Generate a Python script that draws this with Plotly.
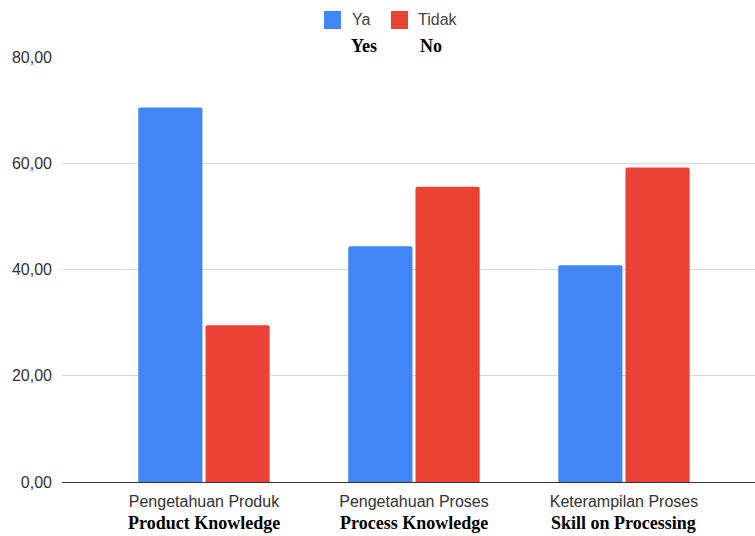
import plotly.graph_objects as go

categories = ["Pengetahuan Produk", "Pengetahuan Proses", "Keterampilan Proses"]
english_labels = ["Product Knowledge", "Process Knowledge", "Skill on Processing"]
ya_values = [70.5, 44.4, 40.8]
tidak_values = [29.5, 55.6, 59.2]
series_names = ["Ya", "Tidak"]
series_english = ["Yes", "No"]
y_ticks = [0, 20, 40, 60, 80]

BLUE = "#4285F4"
RED = "#EA4335"
colors = [BLUE, RED]

fig = go.Figure()
for name, vals, col in zip(series_names, [ya_values, tidak_values], colors):
    fig.add_trace(go.Bar(x=categories, y=vals, name=name,
                         marker=dict(color=col, cornerradius=2, line=dict(width=0))))

L, R, T, B = 62, 0, 57, 54
W, H = 755, 536
pw = W - L - R
ph = H - T - B

def px_to_paper_x(px):
    return (px - L) / pw

def px_to_paper_y(py):
    return (H - B - py) / ph

annotations = []
shapes = []
for cat, eng in zip(categories, english_labels):
    annotations.append(dict(x=cat, xref="x", y=px_to_paper_y(523), yref="paper",
                            text="<b>" + eng + "</b>", showarrow=False,
                            xanchor="center", yanchor="middle",
                            font=dict(family="Liberation Serif", size=18, color="#000")))
# custom legend
legend_sq_x = [324, 391]
legend_txt_x = [350, 416]
eng_x = [364, 431]
for name, eng, col, sx, tx, ex in zip(series_names, series_english, colors,
                                      legend_sq_x, legend_txt_x, eng_x):
    shapes.append(dict(type="rect", xref="paper", yref="paper",
                       x0=px_to_paper_x(sx), x1=px_to_paper_x(sx + 17),
                       y0=px_to_paper_y(29), y1=px_to_paper_y(11),
                       fillcolor=col, line=dict(width=0), layer="above"))
    annotations.append(dict(x=px_to_paper_x(tx), xref="paper", y=px_to_paper_y(20), yref="paper",
                            text=name, showarrow=False, xanchor="left", yanchor="middle",
                            font=dict(family="Liberation Sans", size=16, color="#444")))
    annotations.append(dict(x=px_to_paper_x(ex), xref="paper", y=px_to_paper_y(46), yref="paper",
                            text="<b>" + eng + "</b>", showarrow=False,
                            xanchor="center", yanchor="middle",
                            font=dict(family="Liberation Serif", size=18, color="#000")))

fig.update_layout(
    width=W, height=H,
    margin=dict(l=L, r=R, t=T, b=B, pad=0),
    paper_bgcolor="white", plot_bgcolor="white",
    barmode="group", bargap=0.36, bargroupgap=0.045,
    separators=",.",
    font=dict(family="Liberation Sans", size=14, color="#444"),
    showlegend=False,
    annotations=annotations,
    shapes=shapes,
    xaxis=dict(range=[-0.676, 2.624], showgrid=False, showline=True,
               linecolor="#333", linewidth=1, ticks="outside", ticklen=5,
               tickcolor="rgba(0,0,0,0)",
               tickfont=dict(family="Liberation Sans", size=16, color="#333")),
    yaxis=dict(range=[0, 80], tickvals=y_ticks, tickformat=".2f",
               showgrid=True, gridcolor="#d9d9d9", gridwidth=1,
               zeroline=True, zerolinecolor="#333", zerolinewidth=1,
               showline=False, ticks="", ticklabelstandoff=9,
               tickfont=dict(family="Liberation Sans", size=16, color="#333")),
)

fig.write_html("out.html")
